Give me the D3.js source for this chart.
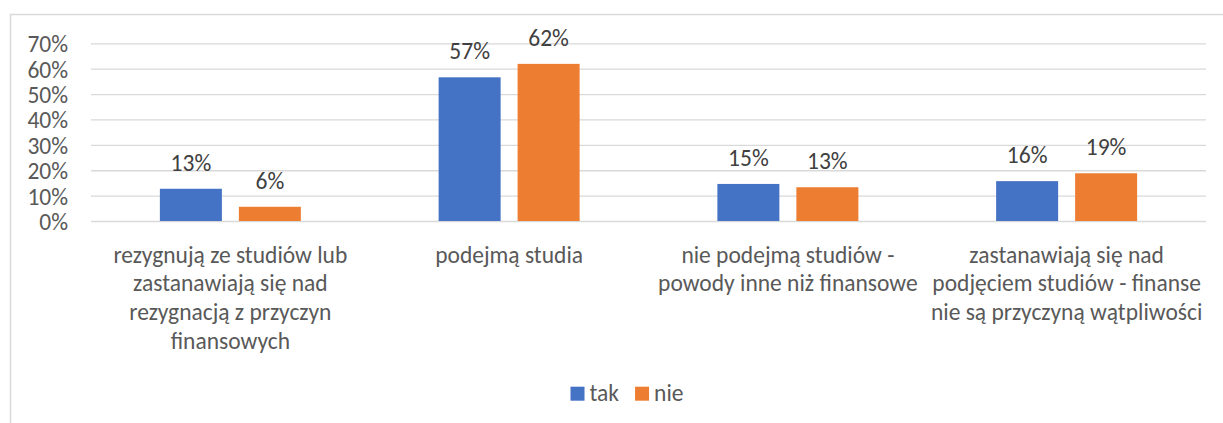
<!DOCTYPE html>
<html>
<head>
<meta charset="utf-8">
<script src="https://cdn.jsdelivr.net/npm/d3@7"></script>
<style>
  body { margin: 0; background: #fff; }
  text { font-family: Calibri, Carlito, Lato, sans-serif; }
</style>
</head>
<body>
<div id="chart"></div>
<script>
// categories (already wrapped the way the original shows them)
const categories = [
    ["rezygnują ze studiów lub", "zastanawiają się nad", "rezygnacją z przyczyn", "finansowych"],
    ["podejmą studia"],
    ["nie podejmą studiów -", "powody inne niż finansowe"],
    ["zastanawiają się nad", "podjęciem studiów - finanse", "nie są przyczyną wątpliwości"]
];
const seriesNames = ["tak", "nie"];
const takValues = [0.127, 0.566, 0.146, 0.157];
const nieValues = [0.056, 0.619, 0.133, 0.188];
const yTicks = [0, 0.1, 0.2, 0.3, 0.4, 0.5, 0.6, 0.7];

const colors = { tak: "#4472C4", nie: "#ED7D31" };
const W = 1223, H = 423;
const fontSize = 23.5;

var svg = d3.select("#chart").append("svg")
    .attr("width", W)
    .attr("height", H);

// chart frame
svg.append("rect")
    .attr("x", 10.5).attr("y", 14.5)
    .attr("width", W + 20).attr("height", H + 20)
    .attr("fill", "#fff")
    .attr("stroke", "#d9d9d9")
    .attr("stroke-width", 1.5);

var plotLeft = 91, plotRight = 1206, plotTop = 43.3, plotBottom = 221;

var x = d3.scaleBand()
    .domain(d3.range(categories.length))
    .range([plotLeft, plotRight]);

var xs = d3.scaleBand()
    .domain(seriesNames)
    .range([0, x.bandwidth()])
    .paddingInner(0.215)
    .paddingOuter(0.872);

var y = d3.scaleLinear()
    .domain([0, 0.7])
    .range([plotBottom, plotTop]);

// gridlines + tick labels
var yAxis = svg.append("g")
    .attr("transform", "translate(" + plotLeft + ",0)")
    .call(d3.axisLeft(y)
        .tickValues(yTicks)
        .tickFormat(d3.format(".0%"))
        .tickSizeInner(-(plotRight - plotLeft))
        .tickSizeOuter(0)
        .tickPadding(23));
yAxis.select(".domain").remove();
yAxis.selectAll("line").attr("stroke", "#d9d9d9").attr("stroke-width", 1.3);
yAxis.selectAll("text")
    .attr("font-size", fontSize)
    .attr("font-family", "Calibri, Carlito, Lato, sans-serif")
    .attr("fill", "#595959")
    .attr("dy", "0.36em");

// bars
var rows = categories.map((c, i) => ({ i: i, tak: takValues[i], nie: nieValues[i] }));

var groups = svg.append("g").selectAll("g")
    .data(rows)
    .join("g")
    .attr("transform", d => "translate(" + x(d.i) + ",0)");

groups.selectAll("rect")
    .data(d => seriesNames.map(s => ({ key: s, value: d[s] })))
    .join("rect")
    .attr("x", d => xs(d.key))
    .attr("y", d => y(d.value))
    .attr("width", xs.bandwidth())
    .attr("height", d => y(0) - y(d.value))
    .attr("fill", d => colors[d.key]);

groups.selectAll("text.lbl")
    .data(d => seriesNames.map(s => ({ key: s, value: d[s] })))
    .join("text")
    .attr("class", "lbl")
    .attr("x", d => xs(d.key) + xs.bandwidth() / 2)
    .attr("y", d => y(d.value) - 18)
    .attr("text-anchor", "middle")
    .attr("font-size", fontSize)
    .attr("fill", "#404040")
    .text(d => d3.format(".0%")(d.value));

// category labels
svg.append("g").selectAll("text")
    .data(categories)
    .join("text")
    .attr("x", (d, i) => x(i) + x.bandwidth() / 2)
    .attr("y", 262.5)
    .attr("text-anchor", "middle")
    .attr("font-size", fontSize)
    .attr("fill", "#595959")
    .selectAll("tspan")
    .data(d => d)
    .join("tspan")
    .attr("x", function () { return this.parentNode.getAttribute("x"); })
    .attr("dy", (d, j) => j === 0 ? 0 : 28.7)
    .text(d => d);

// legend
var legend = svg.append("g");
var items = legend.selectAll("g")
    .data(seriesNames)
    .join("g");
items.append("rect")
    .attr("width", 14).attr("height", 14)
    .attr("y", 386.7)
    .attr("fill", d => colors[d]);
items.append("text")
    .attr("x", 19)
    .attr("y", 400.5)
    .attr("font-size", fontSize)
    .attr("fill", "#595959")
    .text(d => d);

var offset = 0, positions = [];
items.each(function () {
    positions.push(offset);
    offset += 19 + this.querySelector("text").getComputedTextLength() + 16;
});
var total = offset - 16;
var legendStart = 627 - total / 2;
items.attr("transform", (d, i) => "translate(" + (legendStart + positions[i]) + ",0)");
</script>
</body>
</html>
